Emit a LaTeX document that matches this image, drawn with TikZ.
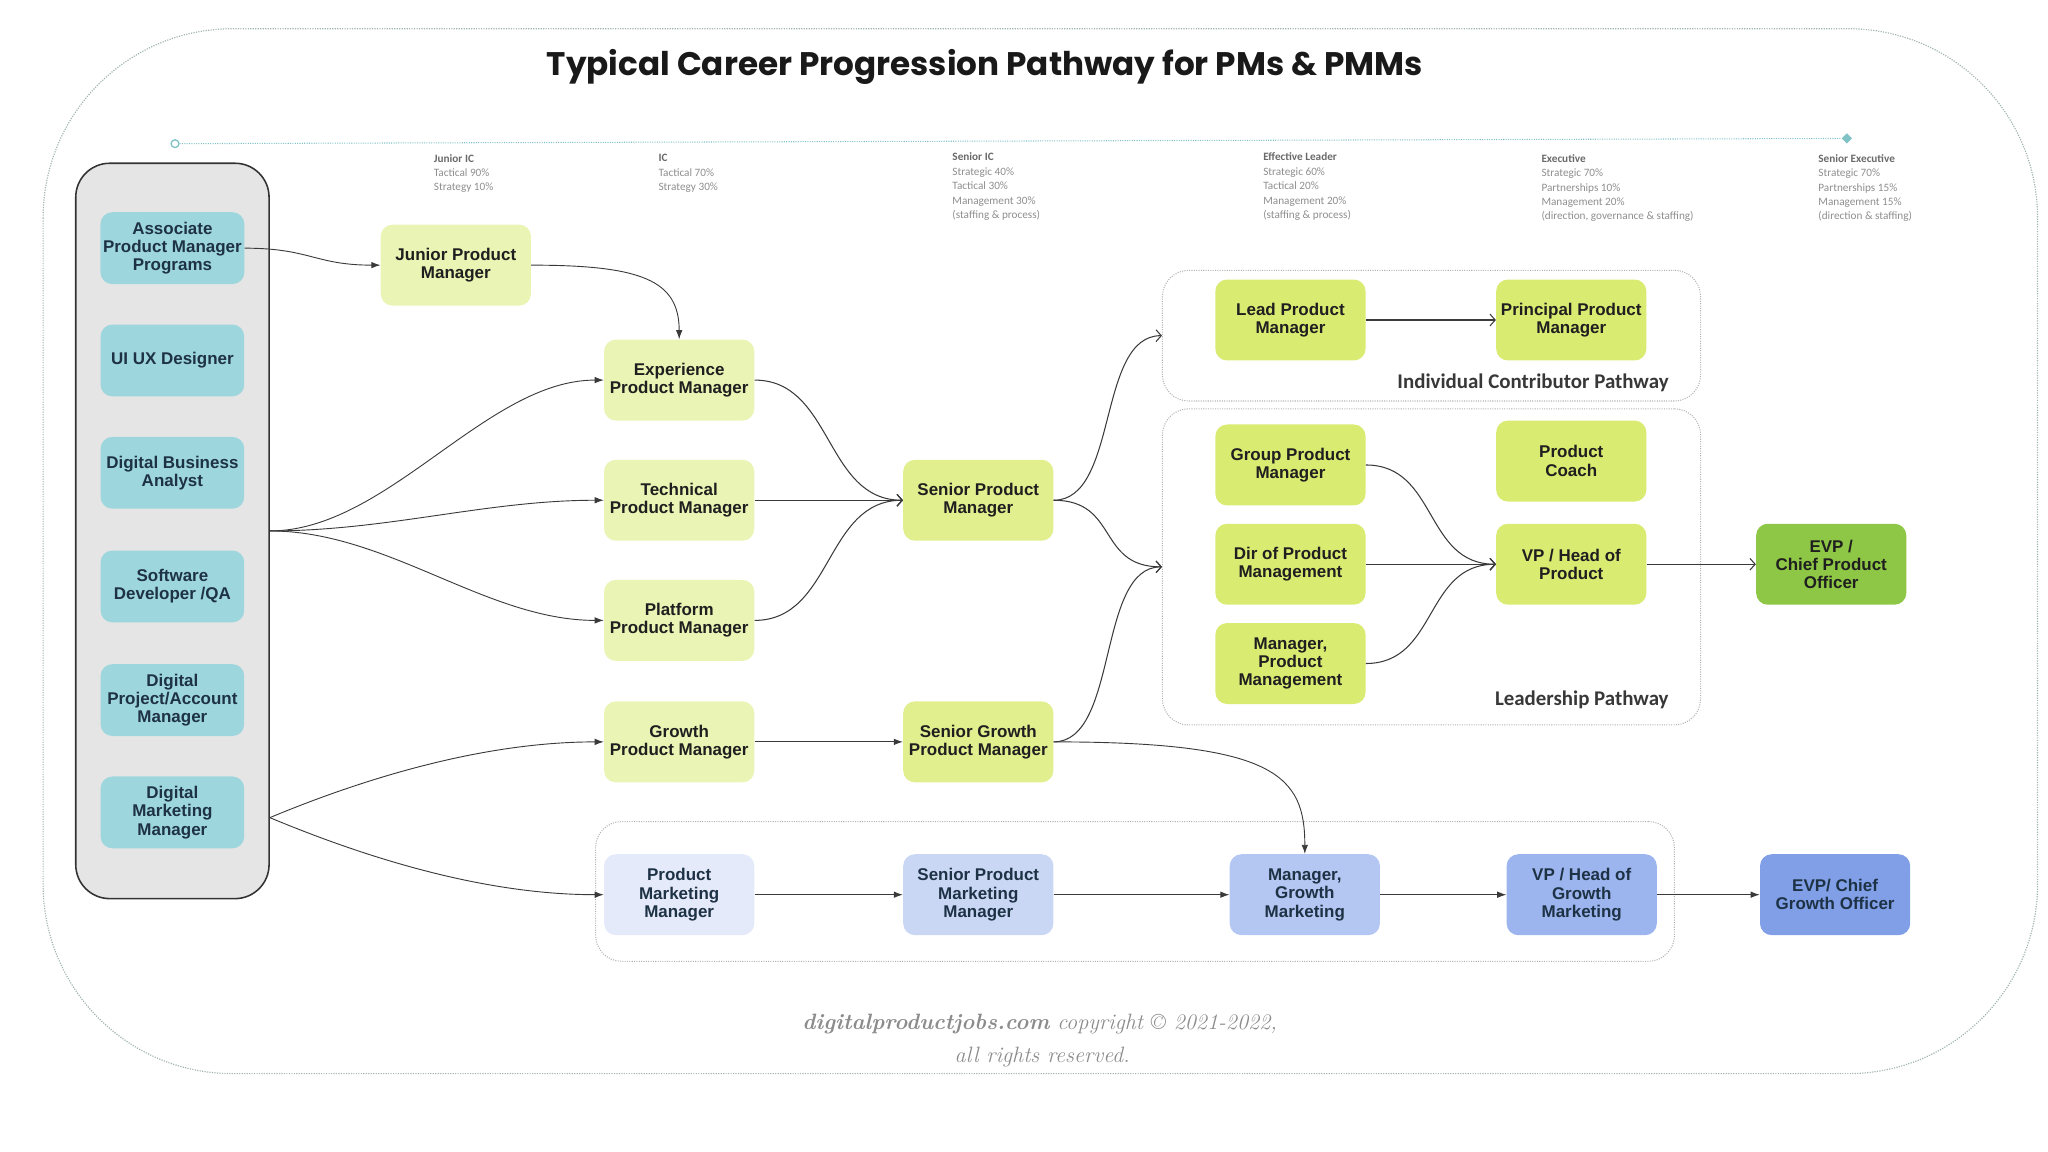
\documentclass[tikz,border=0pt]{standalone}
\usepackage{fontspec}
\usepackage{xcolor}
\usepackage{tikz}
\usetikzlibrary{positioning, calc, arrows.meta, shapes.geometric}
\newfontfamily\boxfont{Liberation Sans}
\newfontfamily\stagefont{Carlito}
\newfontfamily\titlefont{Poppins}

\definecolor{tealbox}{HTML}{9ED6DE}
\definecolor{jrbox}{HTML}{EAF4B4}
\definecolor{srbox}{HTML}{E2EF8E}
\definecolor{leadbox}{HTML}{DAEB72}
\definecolor{cpobox}{HTML}{8EC745}
\definecolor{mkA}{HTML}{E4EAF9}
\definecolor{mkB}{HTML}{C9D7F5}
\definecolor{mkC}{HTML}{B3C7F2}
\definecolor{mkD}{HTML}{9CB5EE}
\definecolor{mkE}{HTML}{809FE7}
\definecolor{linegray}{HTML}{3A3A3A}
\definecolor{framegray}{HTML}{A0B4B2}
\definecolor{tline}{HTML}{7FC3C7}
\definecolor{stagegray}{HTML}{8E8E8E}
\definecolor{stagehead}{HTML}{6A6A6A}
\definecolor{navytext}{HTML}{1E3246}
\newcommand{\stagetitle}[1]{{\bfseries\color{stagehead}#1}}

\begin{document}
\begin{tikzpicture}[x=1pt, y=1pt]
				\tikzset{arrow/.style={-{Latex[length=7pt,width=5pt]}, line width=0.7pt, draw=linegray}}
				\tikzset{openarrow/.style={-{Straight Barb[length=4pt,width=9pt]}, line width=0.8pt, draw=linegray}}
				\tikzset{role/.style={rounded corners=9pt, minimum width=115pt, minimum height=62pt, align=center, inner sep=2pt, text=black!88, font=\boxfont\bfseries\fontsize{13}{14}\selectfont}}
				\tikzset{entry/.style={role, fill=tealbox, minimum width=110pt, minimum height=55pt, text=navytext}}
				\tikzset{pathbox/.style={draw=gray!60, densely dotted, line width=0.8pt, rounded corners=20pt}}
				\tikzset{pathlabel/.style={anchor=east, text=black!78, font=\stagefont\bfseries\fontsize{16}{18}\selectfont}}
				\tikzset{stage/.style={anchor=north west, align=left, inner sep=0pt, text=stagegray, font=\stagefont\fontsize{8.6}{11}\selectfont}}
				\tikzset{credit/.style={text=black!45, font=\itshape\fontsize{17}{19}\selectfont}}

				\useasboundingbox (0,0) rectangle (1568,-882);
				\draw[draw=framegray, densely dotted, line width=0.9pt, rounded corners=145pt] (33,-22) rectangle (1560,-822);

				\node (title) [text=black!90, font=\titlefont\bfseries\fontsize{25}{29}\selectfont] at (754,-51) {Typical Career Progression Pathway for PMs \& PMMs};

				\node (tstart) [circle, draw=tline, line width=1pt, fill=white, inner sep=0pt, minimum size=6pt] at (134,-110) {};
				\node (tend) [diamond, fill=tline, inner sep=0pt, minimum size=8pt] at (1414,-106) {};
				\draw[draw=tline, densely dotted, line width=0.8pt] (tstart) -- (tend);

				\node (jric) [stage] at (332,-118) {\stagetitle{Junior IC}\\Tactical 90\%\\Strategy 10\%};
				\node (ic) [stage] at (504,-118) {\stagetitle{IC}\\Tactical 70\%\\Strategy 30\%};
				\node (sric) [stage] at (729,-117) {\stagetitle{Senior IC}\\Strategic 40\%\\Tactical 30\%\\Management 30\%\\(staffing \& process)};
				\node (efl) [stage] at (967,-117) {\stagetitle{Effective Leader}\\Strategic 60\%\\Tactical 20\%\\Management 20\%\\(staffing \& process)};
				\node (exec) [stage] at (1180,-118) {\stagetitle{Executive}\\Strategic 70\%\\Partnerships 10\%\\Management 20\%\\(direction, governance \& staffing)};
				\node (srexec) [stage] at (1392,-118) {\stagetitle{Senior Executive}\\Strategic 70\%\\Partnerships 15\%\\Management 15\%\\(direction \& staffing)};

				% entry roles
				\node (pool) [draw=black!80, fill=black!10, line width=1.2pt, rounded corners=26pt, minimum width=148pt, minimum height=563pt] at (132,-406.5) {};
				\node (apm) [entry] at (132,-190) {Associate\\Product Manager\\Programs};
				\node (uiux) [entry] at (132,-276) {UI UX Designer};
				\node (dba) [entry] at (132,-362) {Digital Business\\Analyst};
				\node (sdqa) [entry] at (132,-449) {Software\\Developer /QA};
				\node (dpam) [entry] at (132,-536) {Digital\\Project/Account\\Manager};
				\node (dmm) [entry] at (132,-622) {Digital\\Marketing\\Manager};
				\coordinate (dmmout) at (pool.east |- 0,-626);

				\node (jpm) [role, fill=jrbox] at (349,-203) {Junior Product\\Manager};
				\node (xpm) [role, fill=jrbox] at (520,-291) {Experience\\Product Manager};
				\node (tpm) [role, fill=jrbox] at (520,-383) {Technical\\Product Manager};
				\node (ppm) [role, fill=jrbox] at (520,-475) {Platform\\Product Manager};
				\node (gpm) [role, fill=jrbox] at (520,-568) {Growth\\Product Manager};
				\node (spm) [role, fill=srbox] at (749,-383) {Senior Product\\Manager};
				\node (sgpm) [role, fill=srbox] at (749,-568) {Senior Growth\\Product Manager};

				% pathways
				\node (icpath) [pathbox, minimum width=412pt, minimum height=100pt] at (1096,-257) {};
				\node (ldpath) [pathbox, minimum width=412pt, minimum height=242pt] at (1096,-434) {};
				\node (mkpath) [pathbox, minimum width=826pt, minimum height=107pt] at (869,-682.5) {};
				\node (iclabel) [pathlabel] at (1281,-293) {Individual Contributor Pathway};
				\node (ldlabel) [pathlabel] at (1281,-536) {Leadership Pathway};

				\node (lead) [role, fill=leadbox] at (988,-245) {Lead Product\\Manager};
				\node (principal) [role, fill=leadbox] at (1203,-245) {Principal Product\\Manager};
				\node (group) [role, fill=leadbox] at (988,-356) {Group Product\\Manager};
				\node (coach) [role, fill=leadbox] at (1203,-353) {Product\\Coach};
				\node (dir) [role, fill=leadbox] at (988,-432) {Dir of Product\\Management};
				\node (vphp) [role, fill=leadbox] at (1203,-432) {VP / Head of\\Product};
				\node (mpm) [role, fill=leadbox] at (988,-508) {Manager,\\Product\\Management};
				\node (cpo) [role, fill=cpobox] at (1402,-432) {EVP /\\Chief Product\\Officer};

				\node (pmm) [role, fill=mkA, text=navytext] at (520,-685) {Product\\Marketing\\Manager};
				\node (spmm) [role, fill=mkB, text=navytext] at (749,-685) {Senior Product\\Marketing\\Manager};
				\node (mgm) [role, fill=mkC, text=navytext] at (999,-685) {Manager,\\Growth\\Marketing};
				\node (vpgm) [role, fill=mkD, text=navytext] at (1211,-685) {VP / Head of\\Growth\\Marketing};
				\node (cgo) [role, fill=mkE, text=navytext] at (1405,-685) {EVP/ Chief\\Growth Officer};

				\draw[arrow] (apm.east) .. controls +(50,0) and +(-50,0) .. (jpm.west);
				\draw[arrow] (jpm.east) .. controls +(85,0) and +(0,45) .. (xpm.north);
				\foreach \t in {xpm,tpm,ppm}
				{ \draw[arrow] (pool.east) .. controls +(90,0) and +(-90,0) .. (\t.west); }
				\draw[arrow] (dmmout) .. controls +(60,25) and +(-100,0) .. (gpm.west);
				\draw[arrow] (dmmout) .. controls +(60,-25) and +(-100,0) .. (pmm.west);

				\foreach \t in {xpm,tpm,ppm}
				{ \draw[openarrow] (\t.east) .. controls +(60,0) and +(-60,0) .. (spm.west); }
				\draw[arrow] (gpm) -- (sgpm);

				\draw[openarrow] (spm.east) .. controls +(50,0) and +(-50,0) .. (icpath.west);
				\draw[openarrow] (spm.east) .. controls +(50,0) and +(-50,0) .. (ldpath.west);
				\draw[openarrow] (sgpm.east) .. controls +(50,0) and +(-50,0) .. (ldpath.west);
				\draw[arrow] (sgpm.east) .. controls +(170,0) and +(0,60) .. (mgm.north);

				\draw[openarrow] (lead) -- (principal);
				\foreach \t in {group,dir,mpm}
				{ \draw[openarrow] (\t.east) .. controls +(55,0) and +(-55,0) .. (vphp.west); }
				\draw[openarrow] (vphp) -- (cpo);

				\foreach \a/\b in {pmm/spmm,spmm/mgm,mgm/vpgm,vpgm/cgo}
				{ \draw[arrow] (\a) -- (\b); }

				\node (credit) [credit] at (796,-784) {\textbf{digitalproductjobs.com} copyright \textcopyright{} 2021-2022,};
				\node (rights) [credit] at (798,-809) {all rights reserved.};
\end{tikzpicture}
\end{document}
